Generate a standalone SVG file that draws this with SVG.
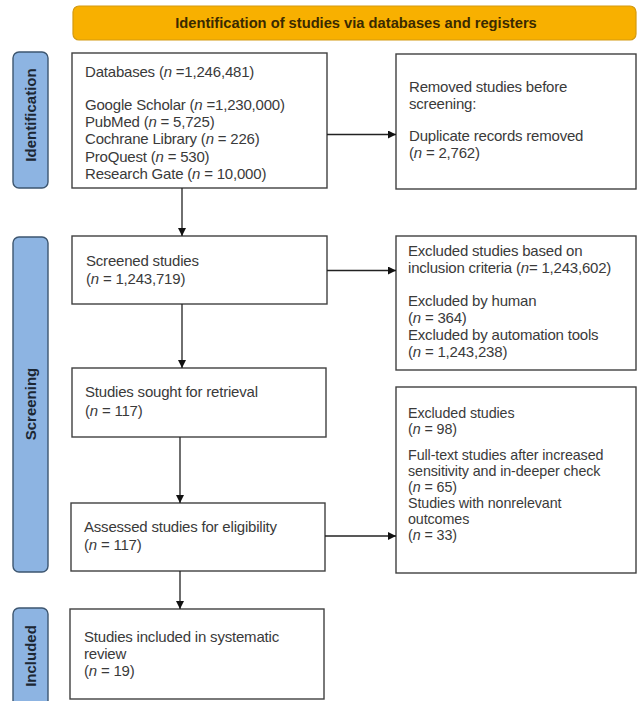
<svg xmlns="http://www.w3.org/2000/svg" width="638" height="701" viewBox="0 0 638 701">
<defs>
<marker id="ah" markerWidth="8" markerHeight="8" refX="8" refY="4" orient="auto" markerUnits="userSpaceOnUse">
<path d="M0,0 L8,4 L0,8 Z" fill="#111"/>
</marker>
<style>
.box{fill:#fff;stroke:#404040;stroke-width:1.4}
.phase{fill:#8db4e2;stroke:#3d5670;stroke-width:1.4}
.ptxt{font-family:"Liberation Sans",Arial,sans-serif;font-weight:bold;font-size:15px;fill:#1c2733;text-anchor:middle}
.t{font-family:"Liberation Sans",Arial,sans-serif;font-size:15px;fill:#3a3a3a;letter-spacing:-0.2px}
.s{font-size:14.3px;letter-spacing:-0.1px}
.con{stroke:#222;stroke-width:1.3;fill:none}
</style>
</defs>
<rect width="638" height="701" fill="#fff"/>

<g id="banner">
<rect x="73" y="6" width="563" height="34" rx="6" fill="#f8b000" stroke="#d49a10" stroke-width="1.2"/>
<text x="356" y="28" font-family="Liberation Sans, Arial, sans-serif" font-weight="bold" font-size="14.7" fill="#3a2a00" text-anchor="middle">Identification of studies via databases and registers</text>
</g>

<g id="phase-identification">
<rect class="phase" x="13" y="52" width="35" height="136" rx="6"/>
<text class="ptxt" transform="translate(36 115) rotate(-90)">Identification</text>
</g>
<g id="phase-screening">
<rect class="phase" x="13" y="237" width="35" height="335" rx="6"/>
<text class="ptxt" transform="translate(36 404) rotate(-90)">Screening</text>
</g>
<g id="phase-included">
<rect class="phase" x="13" y="608" width="35" height="100" rx="6"/>
<text class="ptxt" transform="translate(36 656) rotate(-90)">Included</text>
</g>

<g id="databases">
<rect class="box" x="72" y="53" width="255" height="135"/>
<text class="t" x="85" y="77">Databases (<tspan font-style="italic">n</tspan> =1,246,481)</text>
<text class="t" x="85" y="110">Google Scholar (<tspan font-style="italic">n</tspan> =1,230,000)</text>
<text class="t" x="85" y="127">PubMed (<tspan font-style="italic">n</tspan> = 5,725)</text>
<text class="t" x="85" y="144">Cochrane Library (<tspan font-style="italic">n</tspan> = 226)</text>
<text class="t" x="85" y="162">ProQuest (<tspan font-style="italic">n</tspan> = 530)</text>
<text class="t" x="85" y="179">Research Gate (<tspan font-style="italic">n</tspan> = 10,000)</text>
</g>

<g id="removed">
<rect class="box" x="396" y="54" width="240" height="135"/>
<text class="t" x="409" y="92">Removed studies  before</text>
<text class="t" x="409" y="109">screening:</text>
<text class="t" x="409" y="141">Duplicate records removed</text>
<text class="t" x="409" y="158">(<tspan font-style="italic">n</tspan> = 2,762)</text>
</g>

<g id="screened">
<rect class="box" x="72" y="236" width="255" height="68"/>
<text class="t" x="86" y="266">Screened studies</text>
<text class="t" x="86" y="284">(<tspan font-style="italic">n</tspan> = 1,243,719)</text>
</g>

<g id="excluded-criteria">
<rect class="box" x="396" y="236" width="240" height="134"/>
<text class="t" x="408" y="256">Excluded studies based on</text>
<text class="t" x="408" y="273">inclusion criteria (<tspan font-style="italic">n</tspan>= 1,243,602)</text>
<text class="t" x="408" y="306">Excluded by human</text>
<text class="t" x="408" y="323">(<tspan font-style="italic">n</tspan> = 364)</text>
<text class="t" x="408" y="340">Excluded by automation tools</text>
<text class="t" x="408" y="357">(<tspan font-style="italic">n</tspan> = 1,243,238)</text>
</g>

<g id="sought">
<rect class="box" x="72" y="368" width="254" height="69"/>
<text class="t" x="85" y="397">Studies sought for retrieval</text>
<text class="t" x="85" y="416">(<tspan font-style="italic">n</tspan> = 117)</text>
</g>

<g id="assessed">
<rect class="box" x="71" y="503" width="254" height="68"/>
<text class="t" x="84" y="532">Assessed studies for eligibility</text>
<text class="t" x="84" y="550">(<tspan font-style="italic">n</tspan> = 117)</text>
</g>

<g id="excluded-fulltext">
<rect class="box" x="396" y="387" width="240" height="186"/>
<text class="t s" x="408" y="418">Excluded studies</text>
<text class="t s" x="408" y="434">(<tspan font-style="italic">n</tspan> = 98)</text>
<text class="t s" x="408" y="460">Full-text studies after increased</text>
<text class="t s" x="408" y="476">sensitivity and  in-deeper check</text>
<text class="t s" x="408" y="492">(<tspan font-style="italic">n</tspan> = 65)</text>
<text class="t s" x="408" y="508">Studies with nonrelevant</text>
<text class="t s" x="408" y="524">outcomes</text>
<text class="t s" x="408" y="540">(<tspan font-style="italic">n</tspan> = 33)</text>
</g>

<g id="included">
<rect class="box" x="70" y="609" width="254" height="90"/>
<text class="t" x="84" y="642">Studies included in systematic</text>
<text class="t" x="84" y="659">review</text>
<text class="t" x="84" y="676">(<tspan font-style="italic">n</tspan> = 19)</text>
</g>

<g id="connectors">
<line class="con" x1="327" y1="134.5" x2="396" y2="134.5" marker-end="url(#ah)"/>
<line class="con" x1="182" y1="188" x2="182" y2="236" marker-end="url(#ah)"/>
<line class="con" x1="327" y1="270.5" x2="396" y2="270.5" marker-end="url(#ah)"/>
<line class="con" x1="182" y1="304" x2="182" y2="368" marker-end="url(#ah)"/>
<line class="con" x1="180" y1="437" x2="180" y2="503" marker-end="url(#ah)"/>
<line class="con" x1="325" y1="536" x2="396" y2="536" marker-end="url(#ah)"/>
<line class="con" x1="180" y1="571" x2="180" y2="609" marker-end="url(#ah)"/>
</g>
</svg>
